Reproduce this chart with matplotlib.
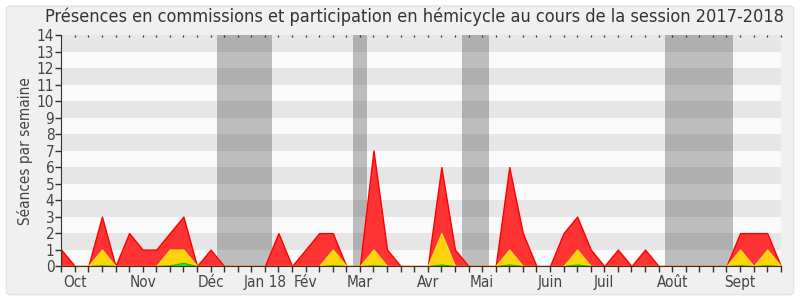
import matplotlib
matplotlib.use("Agg")
import matplotlib.pyplot as plt
from matplotlib.patches import FancyBboxPatch
import numpy as np

plt.rcParams["font.family"] = ["DejaVu Sans"]
plt.rcParams["font.stretch"] = "condensed"

# ---- data ----
weeks = list(range(54))
commissions = [1,0,0,3,0,2,1,1,2,3,0,1,0,0,0,0,2,0,1,2,2,0,0,7,1,0,0,0,6,1,
               0,0,0,6,2,0,0,2,3,1,0,1,0,1,0,0,0,0,0,0,2,2,2,0]
hemicycle = [0,0,0,1,0,0,0,0,1,1,0,0,0,0,0,0,0,0,0,0,1,0,0,1,0,0,0,0,2,0,
             0,0,0,1,0,0,0,0,1,0,0,0,0,0,0,0,0,0,0,0,1,0,1,0]
interventions = [0,0,0,0.05,0,0,0,0,0.05,0.2,0,0,0,0,0,0,0,0,0,0,0.05,0,0,0.05,0,0,0,0,0.1,0,
                 0,0,0,0.1,0,0,0,0,0.1,0,0,0,0,0,0,0,0,0,0,0,0.05,0,0.05,0]
vacations = [(11.5, 15.5), (21.5, 22.5), (29.5, 31.5), (44.5, 49.5)]
month_labels = ["Oct", "Nov", "Déc", "Jan 18", "Fév", "Mar", "Avr", "Mai",
                "Juin", "Juil", "Août", "Sept"]
month_weeks = [1, 6, 11, 15, 18, 22, 27, 31, 36, 40, 45, 50]
y_max = 14

title = "Présences en commissions et participation en hémicycle au cours de la session 2017-2018"
ylabel = "Séances par semaine"

# ---- figure ----
fig = plt.figure(figsize=(8, 3), dpi=100)
fig.patch.set_facecolor("white")
bg = FancyBboxPatch((0.008, 0.018), 0.984, 0.962,
                    boxstyle="round,pad=0,rounding_size=0.008",
                    transform=fig.transFigure, facecolor="#f0f0f0",
                    edgecolor="#e2e2e2", linewidth=1.0, zorder=-10)
fig.patches.append(bg)

ax = fig.add_axes([0.0765, 0.113, 0.8995, 0.77])
ax.set_facecolor("#fafafa")
ax.set_xlim(0, 53)
ax.set_ylim(0, y_max)

# horizontal bands
for k in range(1, y_max, 2):
    ax.axhspan(k, k + 1, color="#e6e6e6", lw=0, zorder=0)

# vacations
for a, b in vacations:
    ax.axvspan(a, b, color="#303030", alpha=0.3, lw=0, zorder=1)

x = np.array(weeks)
ax.fill_between(x, commissions, 0, facecolor="#ff3333", edgecolor="#ff0000",
                linewidth=1.0, zorder=2)
ax.fill_between(x, hemicycle, 0, facecolor="#ffd20a", edgecolor="#f0e020",
                linewidth=1.0, zorder=3)
ax.fill_between(x, interventions, 0, facecolor="#22ee22", edgecolor="#00cc00",
                linewidth=0.8, zorder=4)

# ticks
labels = [""] * len(weeks)
for w, lab in zip(month_weeks, month_labels):
    labels[w] = lab
ax.set_xticks(weeks)
ax.set_xticklabels(labels)
ax.set_yticks(range(0, y_max + 1))
ax.tick_params(axis="x", direction="out", length=4, width=1, color="#333333",
               labelsize=11, labelcolor="#444444", pad=2.5)
ax.tick_params(axis="y", direction="out", length=4, width=1, color="#333333",
               labelsize=11, labelcolor="#444444", pad=1)

top = ax.secondary_xaxis("top")
top.set_xticks(weeks)
top.set_xticklabels([])
top.tick_params(direction="in", length=1.2, width=0.9, color="#333333")
top.spines["top"].set_visible(False)

for s in ["top", "right"]:
    ax.spines[s].set_visible(False)
ax.spines["left"].set_color("#333333")
ax.spines["bottom"].set_color("#4a2a10")
ax.spines["left"].set_zorder(6)
ax.spines["bottom"].set_zorder(6)

ax.set_ylabel(ylabel, fontsize=11, color="#444444", labelpad=3)
fig.text(0.518, 0.945, title, ha="center", va="center", fontsize=13, color="#333333")

fig.savefig("out.png", dpi=100, facecolor=fig.get_facecolor())
